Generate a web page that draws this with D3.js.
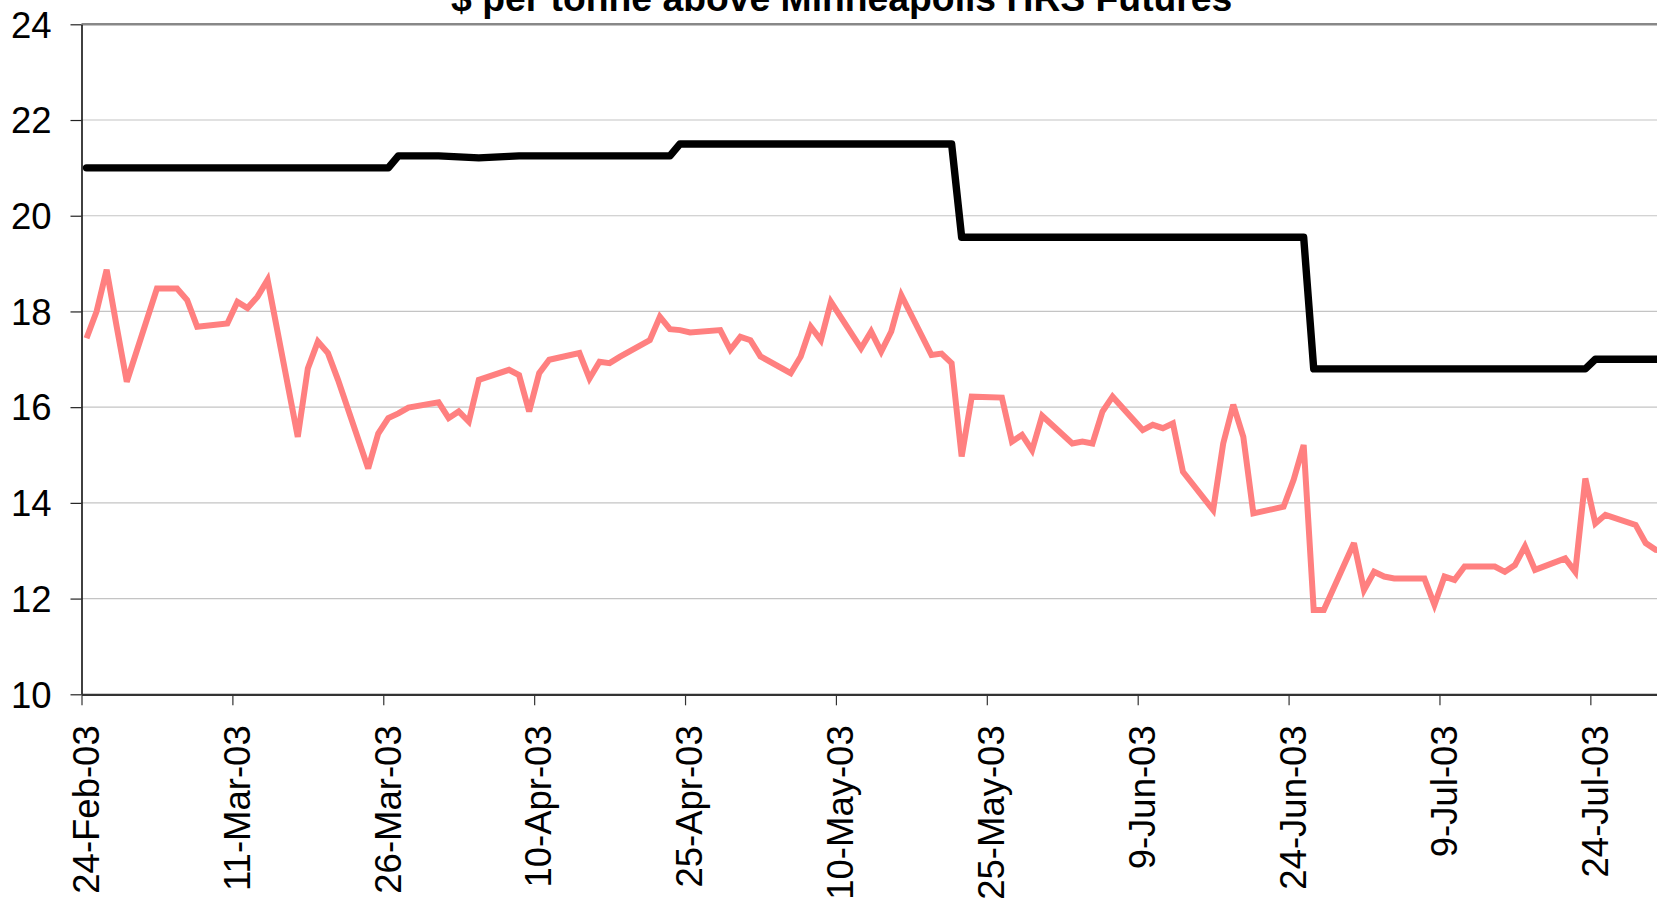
<!DOCTYPE html>
<html><head><meta charset="utf-8">
<script src="https://cdn.jsdelivr.net/npm/d3@7"></script>
<style>html,body{margin:0;padding:0;background:#fff;overflow:hidden}</style>
</head><body><svg id="chart" width="1657" height="901"></svg>
<script>
const title = "$ per tonne above Minneapolis HRS Futures";

const dates = [
  "2003-02-24","2003-02-25","2003-02-26","2003-02-27","2003-02-28",
  "2003-03-03","2003-03-04","2003-03-05","2003-03-06","2003-03-07",
  "2003-03-10","2003-03-11","2003-03-12","2003-03-13","2003-03-14",
  "2003-03-17","2003-03-18","2003-03-19","2003-03-20","2003-03-21",
  "2003-03-24","2003-03-25","2003-03-26","2003-03-27","2003-03-28",
  "2003-03-31","2003-04-01","2003-04-02","2003-04-03","2003-04-04",
  "2003-04-07","2003-04-08","2003-04-09","2003-04-10","2003-04-11",
  "2003-04-14","2003-04-15","2003-04-16","2003-04-17","2003-04-18",
  "2003-04-21","2003-04-22","2003-04-23","2003-04-24","2003-04-25",
  "2003-04-28","2003-04-29","2003-04-30","2003-05-01","2003-05-02",
  "2003-05-05","2003-05-06","2003-05-07","2003-05-08","2003-05-09",
  "2003-05-12","2003-05-13","2003-05-14","2003-05-15","2003-05-16",
  "2003-05-19","2003-05-20","2003-05-21","2003-05-22","2003-05-23",
  "2003-05-26","2003-05-27","2003-05-28","2003-05-29","2003-05-30",
  "2003-06-02","2003-06-03","2003-06-04","2003-06-05","2003-06-06",
  "2003-06-09","2003-06-10","2003-06-11","2003-06-12","2003-06-13",
  "2003-06-16","2003-06-17","2003-06-18","2003-06-19","2003-06-20",
  "2003-06-23","2003-06-24","2003-06-25","2003-06-26","2003-06-27",
  "2003-06-30","2003-07-01","2003-07-02","2003-07-03","2003-07-04",
  "2003-07-07","2003-07-08","2003-07-09","2003-07-10","2003-07-11",
  "2003-07-14","2003-07-15","2003-07-16","2003-07-17","2003-07-18",
  "2003-07-21","2003-07-22","2003-07-23","2003-07-24","2003-07-25",
  "2003-07-28","2003-07-29","2003-07-30","2003-07-31"
];

// pink (light red) series
const pinkValues = [
  17.44, 18.00, 18.87, 17.68, 16.53,
  18.48, 18.48, 18.48, 18.24, 17.68,
  17.75, 18.20, 18.07, 18.31, 18.66,
  15.38, 16.81, 17.37, 17.13, 16.57,
  14.72, 15.45, 15.77, 15.87, 15.99,
  16.10, 15.77, 15.91, 15.70, 16.57,
  16.78, 16.67, 15.91, 16.71, 16.99,
  17.13, 16.60, 16.95, 16.92, 17.05,
  17.40, 17.89, 17.63, 17.61, 17.56,
  17.61, 17.20, 17.47, 17.40, 17.06,
  16.71, 17.06, 17.68, 17.40, 18.20,
  17.23, 17.58, 17.16, 17.58, 18.34,
  17.09, 17.12, 16.92, 14.97, 16.22,
  16.20, 15.28, 15.42, 15.10, 15.82,
  15.24, 15.28, 15.24, 15.91, 16.22,
  15.52, 15.63, 15.56, 15.66, 14.65,
  13.85, 15.24, 16.05, 15.38, 13.78,
  13.92, 14.48, 15.21, 11.76, 11.76,
  13.16, 12.18, 12.56, 12.46, 12.42,
  12.42, 11.87, 12.46, 12.39, 12.67,
  12.67, 12.56, 12.70, 13.09, 12.60,
  12.84, 12.56, 14.51, 13.57, 13.75,
  13.54, 13.16, 13.02, 13.00
];

// black series
const blackValues = [
  21.00, 21.00, 21.00, 21.00, 21.00,
  21.00, 21.00, 21.00, 21.00, 21.00,
  21.00, 21.00, 21.00, 21.00, 21.00,
  21.00, 21.00, 21.00, 21.00, 21.00,
  21.00, 21.00, 21.00, 21.25, 21.25,
  21.25, 21.24, 21.23, 21.22, 21.21,
  21.24, 21.25, 21.25, 21.25, 21.25,
  21.25, 21.25, 21.25, 21.25, 21.25,
  21.25, 21.25, 21.25, 21.50, 21.50,
  21.50, 21.50, 21.50, 21.50, 21.50,
  21.50, 21.50, 21.50, 21.50, 21.50,
  21.50, 21.50, 21.50, 21.50, 21.50,
  21.50, 21.50, 21.50, 19.55, 19.55,
  19.55, 19.55, 19.55, 19.55, 19.55,
  19.55, 19.55, 19.55, 19.55, 19.55,
  19.55, 19.55, 19.55, 19.55, 19.55,
  19.55, 19.55, 19.55, 19.55, 19.55,
  19.55, 19.55, 19.55, 16.80, 16.80,
  16.80, 16.80, 16.80, 16.80, 16.80,
  16.80, 16.80, 16.80, 16.80, 16.80,
  16.80, 16.80, 16.80, 16.80, 16.80,
  16.80, 16.80, 16.80, 17.00, 17.00,
  17.00, 17.00, 17.00, 17.00
];

const yTicks = [10, 12, 14, 16, 18, 20, 22, 24];
const xTickLabels = ["24-Feb-03","11-Mar-03","26-Mar-03","10-Apr-03","25-Apr-03",
  "10-May-03","25-May-03","9-Jun-03","24-Jun-03","9-Jul-03","24-Jul-03"];
const xDomain = ["2003-02-24", "2003-08-01"];

(function () {
const svg = d3.select("#chart");
const FONT = "'Liberation Sans', Arial, Helvetica, sans-serif";
const parseISO = d3.utcParse("%Y-%m-%d");
const parseTick = d3.utcParse("%d-%b-%y");

const plotLeft = 81.5, plotTop = 24.3, plotBottom = 694.3;
const pxPerDay = 10.059;
const d0 = parseISO(xDomain[0]), d1 = parseISO(xDomain[1]);
const nDays = (d1 - d0) / 864e5;
const x = d3.scaleUtc().domain([d0, d1]).range([plotLeft, plotLeft + nDays * pxPerDay]);
const y = d3.scaleLinear().domain([10, 24]).range([plotBottom, plotTop]);
const plotRight = x.range()[1];

const parsedDates = dates.map(parseISO);
const mid = d => x(d3.utcHour.offset(d, 12));

// gridlines
svg.append("g").selectAll("line").data(yTicks.filter(t => t > 10 && t < 24)).join("line")
  .attr("x1", plotLeft).attr("x2", plotRight)
  .attr("y1", d => y(d)).attr("y2", d => y(d))
  .attr("stroke", "#c4c4c4").attr("stroke-width", 1.2);

// top border
svg.append("line").attr("x1", plotLeft).attr("x2", plotRight)
  .attr("y1", y(24)).attr("y2", y(24))
  .attr("stroke", "#888").attr("stroke-width", 2.4);

// lines
const pinkLine = d3.line().x((d, i) => mid(parsedDates[i])).y(d => y(d));
svg.append("path").datum(pinkValues).attr("d", pinkLine)
  .attr("fill", "none").attr("stroke", "#ff8080").attr("stroke-width", 6)
  .attr("stroke-linejoin", "miter").attr("stroke-miterlimit", 3).attr("stroke-linecap", "butt");

const blackLine = d3.line().x((d, i) => mid(parsedDates[i])).y(d => y(d));
svg.append("path").datum(blackValues).attr("d", blackLine)
  .attr("fill", "none").attr("stroke", "#000").attr("stroke-width", 7.4)
  .attr("stroke-linejoin", "round").attr("stroke-linecap", "round");

// y axis
const yAxis = svg.append("g").attr("transform", `translate(${plotLeft},0)`)
  .call(d3.axisLeft(y).tickValues(yTicks).tickSize(11).tickPadding(19).tickSizeOuter(0));
yAxis.select(".domain").attr("stroke", "#111").attr("stroke-width", 1.6);
yAxis.selectAll(".tick line").attr("stroke", "#222").attr("stroke-width", 1.2);
yAxis.selectAll("text").attr("font-family", FONT).attr("font-size", 36.5).attr("fill", "#000")
  .attr("dy", "0.35em");

// x axis
const xTicks = xTickLabels.map(parseTick);
const xAxis = svg.append("g").attr("transform", `translate(0,${plotBottom})`)
  .call(d3.axisBottom(x).tickValues(xTicks).tickSize(11).tickSizeOuter(0)
    .tickFormat((d, i) => xTickLabels[i]));
xAxis.select(".domain").attr("stroke", "#333").attr("stroke-width", 2.2);
xAxis.selectAll(".tick line").attr("stroke", "#333").attr("stroke-width", 1.2);
xAxis.selectAll("text").attr("font-family", FONT).attr("font-size", 36.5).attr("fill", "#000")
  .attr("transform", "rotate(-90)").attr("x", -31).attr("y", 0).attr("dy", "0.46em")
  .style("text-anchor", "end");

// title (partly above the top edge, as in the original)
svg.append("text").attr("x", 841.7).attr("y", 11).attr("text-anchor", "middle")
  .attr("font-family", FONT).attr("font-weight", "bold").attr("font-size", 37.3)
  .attr("fill", "#000").text(title);
})();
</script>
</body></html>
